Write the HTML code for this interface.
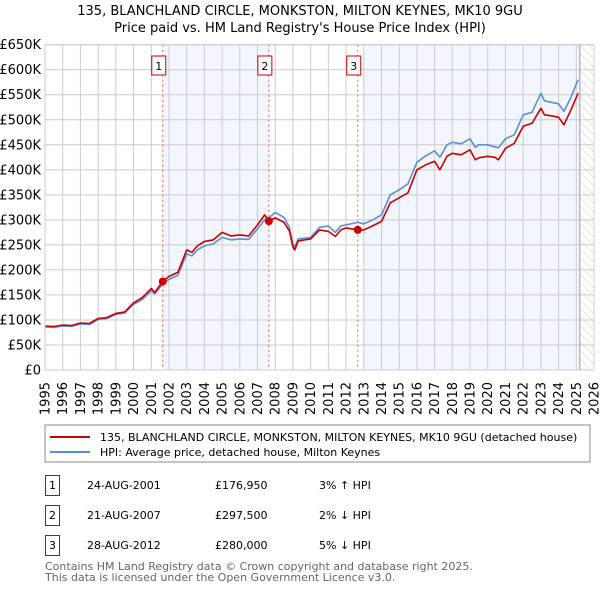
<!DOCTYPE html>
<html><head><meta charset="utf-8"><style>
body{margin:0;background:#fff;font-family:"DejaVu Sans","Liberation Sans",sans-serif;}
svg text{font-family:"DejaVu Sans","Liberation Sans",sans-serif;}
</style></head><body>
<svg id="c" width="600" height="590" xmlns="http://www.w3.org/2000/svg">
<defs><pattern id="hatch" width="6" height="6" patternUnits="userSpaceOnUse" patternTransform="rotate(-45)"><line x1="0" y1="0" x2="0" y2="6" stroke="#ccc" stroke-width="1"/></pattern></defs>
<text x="300" y="15" text-anchor="middle" font-size="13">135, BLANCHLAND CIRCLE, MONKSTON, MILTON KEYNES, MK10 9GU</text>
<text x="300" y="32" text-anchor="middle" font-size="13">Price paid vs. HM Land Registry's House Price Index (HPI)</text>
<g id="plot"></g>
<rect x="45" y="425" width="545" height="37" fill="#fff" stroke="#888"/>
<line x1="50" y1="437" x2="90" y2="437" stroke="#cc0000" stroke-width="2"/>
<text x="100" y="441" font-size="11">135, BLANCHLAND CIRCLE, MONKSTON, MILTON KEYNES, MK10 9GU (detached house)</text>
<line x1="50" y1="452" x2="90" y2="452" stroke="#5b8fd6" stroke-width="2"/>
<text x="100" y="456" font-size="11">HPI: Average price, detached house, Milton Keynes</text>
<g font-size="11">
<rect x="45.5" y="475.5" width="14" height="20" fill="none" stroke="#cc0000"/><text x="52.5" y="489" text-anchor="middle">1</text>
<text x="87" y="489">24-AUG-2001</text><text x="215" y="489">£176,950</text><text x="319" y="489">3% ↑ HPI</text>
<rect x="45.5" y="505.5" width="14" height="20" fill="none" stroke="#cc0000"/><text x="52.5" y="519" text-anchor="middle">2</text>
<text x="87" y="519">21-AUG-2007</text><text x="215" y="519">£297,500</text><text x="319" y="519">2% ↓ HPI</text>
<rect x="45.5" y="535.5" width="14" height="20" fill="none" stroke="#cc0000"/><text x="52.5" y="549" text-anchor="middle">3</text>
<text x="87" y="549">28-AUG-2012</text><text x="215" y="549">£280,000</text><text x="319" y="549">5% ↓ HPI</text>
</g>
<text x="45" y="570" font-size="11" fill="#666">Contains HM Land Registry data © Crown copyright and database right 2025.</text>
<text x="45" y="581" font-size="11" fill="#666">This data is licensed under the Open Government Licence v3.0.</text>
</svg>
<script>
const yearTicks=[1995,1996,1997,1998,1999,2000,2001,2002,2003,2004,2005,2006,2007,2008,2009,2010,2011,2012,2013,2014,2015,2016,2017,2018,2019,2020,2021,2022,2023,2024,2025,2026];
const valueTicks=[0,50,100,150,200,250,300,350,400,450,500,550,600,650];
const valueTickLabels=["£0","£50K","£100K","£150K","£200K","£250K","£300K","£350K","£400K","£450K","£500K","£550K","£600K","£650K"];
const priceDates=[1995,1995.5,1996,1996.5,1997,1997.5,1998,1998.5,1999,1999.5,2000,2000.5,2001,2001.2,2001.65,2002,2002.5,2003,2003.3,2003.6,2004,2004.5,2005,2005.5,2006,2006.5,2007,2007.4,2007.64,2008,2008.5,2008.8,2009,2009.1,2009.3,2010,2010.5,2011,2011.4,2011.7,2012,2012.66,2013,2013.5,2014,2014.5,2015,2015.5,2016,2016.5,2017,2017.3,2017.7,2018,2018.5,2019,2019.3,2019.5,2020,2020.4,2020.6,2021,2021.5,2022,2022.5,2023,2023.2,2023.6,2024,2024.3,2024.7,2025.1];
const priceValues=[88,87,90,89,94,93,103,105,113,116,134,145,163,155,177,187,195,240,235,248,257,260,275,268,270,268,290,310,297.5,304,295,278,246,240,258,262,280,277,267,280,284,280,280,288,297,334,344,354,400,410,417,400,427,433,430,440,420,424,427,425,420,443,453,487,493,523,510,508,505,490,520,553];
const hpiDates=[1995,1995.5,1996,1996.5,1997,1997.5,1998,1998.5,1999,1999.5,2000,2000.5,2001,2001.2,2001.65,2002,2002.5,2003,2003.3,2003.6,2004,2004.5,2005,2005.5,2006,2006.5,2007,2007.4,2007.64,2008,2008.5,2008.8,2009,2009.1,2009.3,2010,2010.5,2011,2011.4,2011.7,2012,2012.66,2013,2013.5,2014,2014.5,2015,2015.5,2016,2016.5,2017,2017.3,2017.7,2018,2018.5,2019,2019.3,2019.5,2020,2020.4,2020.6,2021,2021.5,2022,2022.5,2023,2023.2,2023.6,2024,2024.3,2024.7,2025.1];
const hpiValues=[86,85,88,87,92,91,101,103,111,114,131,141,158,152,172,181,189,232,228,240,248,252,265,260,262,261,282,300,304,315,305,285,252,246,262,265,285,288,275,288,290,295,292,300,310,350,360,372,415,428,438,425,450,455,452,462,445,450,450,446,444,462,470,510,515,553,538,535,532,517,545,580];
const sales=[[2001.65,176.95,"1"],[2007.64,297.5,"2"],[2012.66,280,"3"]];
const NS="http://www.w3.org/2000/svg";
const X0=45,X1=594,Y0=370,Y1=44.7;
const xs=t=>X0+(t-1995)/(2026-1995)*(X1-X0);
const ys=v=>Y0-v/650*(Y0-Y1);
const g=document.getElementById('plot');
function mk(tag,attrs){const e=document.createElementNS(NS,tag);for(const k in attrs)e.setAttribute(k,attrs[k]);g.appendChild(e);return e;}
let e;
e=mk('rect',{x:X0,y:Y1,width:X1-X0,height:Y0-Y1,fill:'#fff'});


e=mk('rect',{x:xs(2001.65),y:Y1,width:xs(2007.64)-xs(2001.65),height:Y0-Y1,fill:'#f0f4fc',opacity:0.8});


e=mk('rect',{x:xs(2013.0),y:Y1,width:xs(2025.2)-xs(2013.0),height:Y0-Y1,fill:'#f0f4fc',opacity:0.8});


e=mk('rect',{x:xs(2025.2),y:Y1,width:X1-xs(2025.2),height:Y0-Y1,fill:'url(#hatch)'});


yearTicks.forEach(t=>{
 e=mk('line',{x1:xs(t),x2:xs(t),y1:Y1,y2:Y0,stroke:'#ccc','stroke-width':1});
 
 
 e=mk('text',{x:0,y:0,'font-size':13,'text-anchor':'end',transform:`translate(${xs(t)+4.5},${Y0+12}) rotate(-90)`});
 e.textContent=t;
 
 
});
valueTicks.forEach((v,i)=>{
 e=mk('line',{x1:X0,x2:X1,y1:ys(v),y2:ys(v),stroke:'#ccc','stroke-width':1});
 
 
 e=mk('text',{x:X0-4,y:ys(v)+4.5,'font-size':13,'text-anchor':'end'});
 e.textContent=valueTickLabels[i];
 
 
});
e=mk('line',{x1:xs(2025.2),x2:xs(2025.2),y1:Y1,y2:Y0,stroke:'#999','stroke-width':1});


sales.forEach(s=>{
 e=mk('line',{x1:xs(s[0]),x2:xs(s[0]),y1:Y1,y2:Y0,stroke:'#f55','stroke-width':1,'stroke-dasharray':'2,3'});
 
 
});
function path(d,v,col,name){
 e=mk('path',{d:d.map((t,i)=>(i?'L':'M')+xs(t).toFixed(1)+','+ys(v[i]).toFixed(1)).join(''),fill:'none',stroke:col,'stroke-width':1.6,'stroke-linejoin':'round'});
 
 
}
path(hpiDates,hpiValues,'#5b8fd6','hpi-line');
path(priceDates,priceValues,'#cc0000','price-line');
sales.forEach(s=>{
 e=mk('circle',{cx:xs(s[0]),cy:ys(s[1]),r:4,fill:'#cc0000'});
 
 
 e=mk('rect',{x:xs(s[0])-11,y:56,width:14,height:19,fill:'#fff',stroke:'#cc0000'});
 
 
 e=mk('text',{x:xs(s[0])-4,y:70,'font-size':11,'text-anchor':'middle'});
 e.textContent=s[2];
 
 
});
e=mk('rect',{x:X0,y:Y1,width:X1-X0,height:Y0-Y1,fill:'none',stroke:'#ccc'});


</script>
</body></html>
